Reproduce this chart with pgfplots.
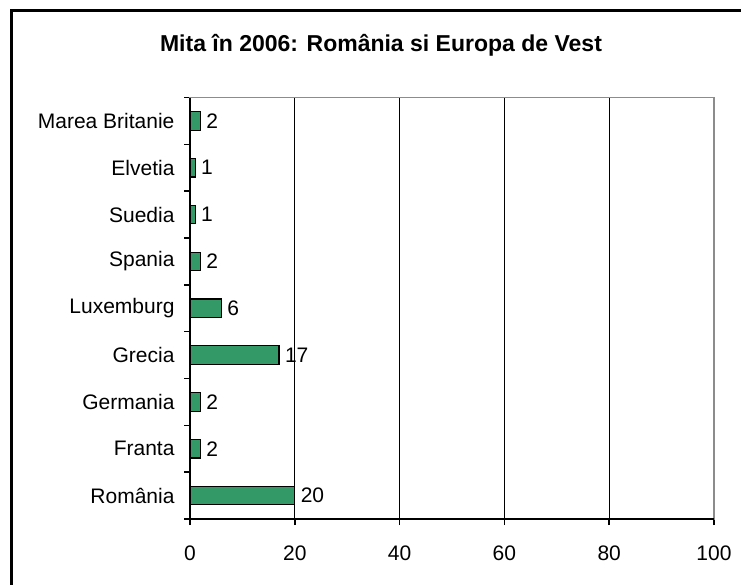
\documentclass[border=0pt]{standalone}
\usepackage{pgfplots}
\pgfplotsset{compat=1.18}
\usepackage{fontspec}
\setmainfont{Liberation Sans}
\definecolor{barg}{RGB}{51,153,102}
\begin{document}
\begin{tikzpicture}
\useasboundingbox (0pt,0pt) rectangle (741pt,584pt);
\draw[line width=3pt] (11.5pt,573.5pt) rectangle (800pt,-30pt);
\node[font=\bfseries\fontsize{23}{27}\selectfont, anchor=base, inner sep=0pt] at (381pt,532pt) {Mita în 2006: România si Europa de Vest};
\begin{axis}[
  at={(190pt,65pt)}, anchor=south west,
  scale only axis, width=524pt, height=421.5pt,
  xmin=0, xmax=100, ymin=-0.5, ymax=8.5,
  xbar, bar width=18.5pt,
  xtick={0,20,40,60,80,100},
  ytick={0,1,2,3,4,5,6,7,8},
  yticklabels={România,Franta,Germania,Grecia,Luxemburg,Spania,Suedia,Elvetia,Marea Britanie},
  minor ytick={-0.5,0.5,1.5,2.5,3.5,4.5,5.5,6.5,7.5,8.5},
  xtick pos=bottom, ytick pos=left,
  tick align=outside,
  major tick length=6pt, minor tick length=6pt,
  major y tick style={draw=none},
  minor y tick style={black, line width=1.5pt},
  major x tick style={black, line width=1.5pt},
  xmajorgrids, major x grid style={black, line width=1pt},
  axis line style={draw=gray!90, line width=1.5pt},
  tick label style={font=\fontsize{21}{25}\selectfont},
  /pgf/number format/assume math mode=true,
  xticklabel style={yshift=-17pt},
  yticklabel style={xshift=-6pt},
  nodes near coords,
  every node near coord/.append style={font=\fontsize{21}{25}\selectfont, black, xshift=2pt},
  clip=false,
]
\addplot[fill=barg, draw=black, line width=1.3pt] coordinates {
 (20,0) (2,1) (2,2) (17,3) (6,4) (2,5) (1,6) (1,7) (2,8)};
\draw[black, line width=1.7pt] (rel axis cs:0,1) -- (rel axis cs:0,0) -- (rel axis cs:1,0);
\end{axis}
\end{tikzpicture}
\end{document}
